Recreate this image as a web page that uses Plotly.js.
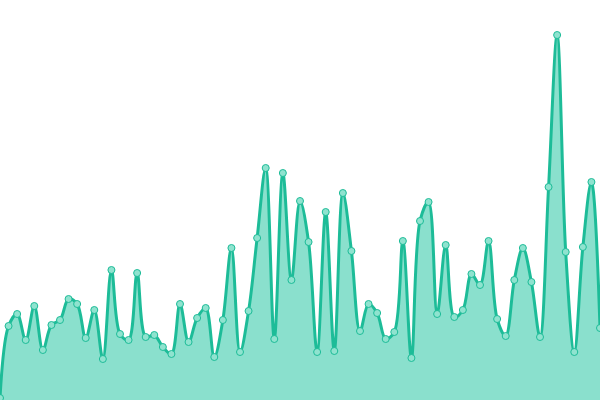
<!DOCTYPE html>
<html>
<head>
<meta charset="utf-8">
<script src="https://cdn.plot.ly/plotly-3.0.1.min.js"></script>
<style>
  html, body { margin: 0; padding: 0; background: #fff; }
  #graph { width: 600px; height: 400px; }
</style>
</head>
<body>
<div id="graph"></div>
<script>
(function(){

'use strict';

  var graph = document.getElementById('graph');

  // One value per sample (plot height = 400 units).
  var values = [
    2, 74, 86, 60, 94, 50, 75, 80, 101, 96,
    62, 90, 41, 130, 66, 60, 127, 63, 65, 53,
    46, 96, 58, 82, 92, 43, 80, 152, 48, 89,
    162, 232, 61, 227, 120, 199, 158, 48, 188, 49,
    207, 149, 69, 96, 87, 61, 68, 159, 42, 179,
    198, 86, 155, 83, 90, 126, 115, 159, 81, 64,
    120, 152, 118, 63, 213, 365, 148, 48, 153, 218,
    72
  ];

  var steps = values.map(function(v, i){ return i; });

  var lineColor = '#1dbc98';
  var areaColor = '#8ae0cd';

  var trace = {
    type: 'scatter',
    mode: 'lines+markers',
    x: steps,
    y: values,
    fill: 'tozeroy',
    fillcolor: areaColor,
    line: {
      color: lineColor,
      width: 3,
      shape: 'spline',
      smoothing: 1
    },
    marker: {
      size: 7,
      color: '#8fe3cf',
      line: { color: lineColor, width: 1 }
    },
    cliponaxis: true,
    hoverinfo: 'none'
  };

  var hiddenAxis = {
    visible: false,
    showgrid: false,
    zeroline: false,
    fixedrange: true
  };

  var layout = {
    width: 600,
    height: 400,
    margin: { l: 0, r: 0, t: 0, b: 0, pad: 0 },
    paper_bgcolor: '#ffffff',
    plot_bgcolor: '#ffffff',
    showlegend: false,
    xaxis: Object.assign({}, hiddenAxis, { range: [0, steps.length - 1] }),
    yaxis: Object.assign({}, hiddenAxis, { range: [0, 400] })
  };

  Plotly.newPlot(graph, [trace], layout, { displayModeBar: false, staticPlot: true });

})();
</script>
</body>
</html>
